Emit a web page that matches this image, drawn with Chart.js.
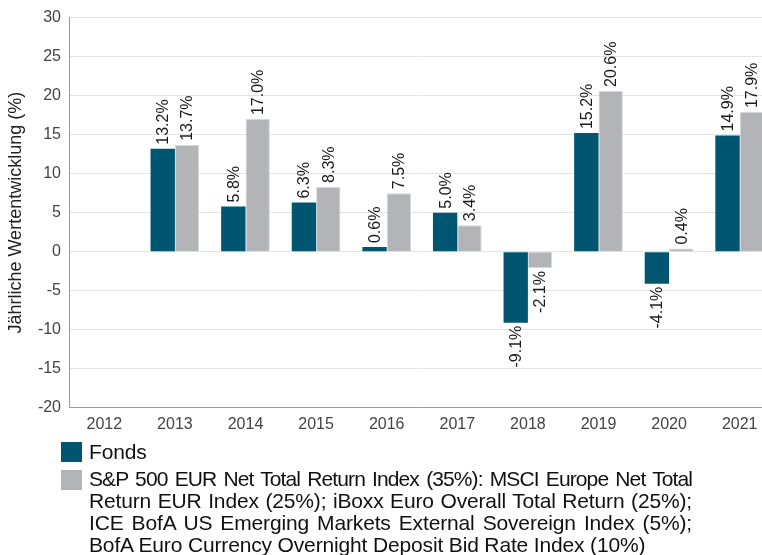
<!DOCTYPE html>
<html>
<head>
<meta charset="utf-8">
<script src="https://cdn.jsdelivr.net/npm/chart.js@4/dist/chart.umd.min.js"></script>
<style>
  html, body { margin: 0; padding: 0; background: #fff; overflow: hidden; }
  body { width: 762px; height: 555px; position: relative; font-family: "Liberation Sans", Arial, sans-serif; }
  #wrap { position: absolute; left: 0; top: 0; width: 775px; height: 441px; }
  #legend { position: absolute; left: 61px; top: 442px; color: #111; font-size: 21px; }
  .item { position: relative; padding-left: 28px; }
  .box { position: absolute; left: 0; width: 21px; height: 20px; }
  .ln { width: 603px; line-height: 22px; letter-spacing: -0.15px; white-space: nowrap; }
  .just { text-align: justify; text-align-last: justify; }
  .tight { letter-spacing: -0.9px; }
</style>
</head>
<body>
<div id="wrap"><canvas id="chart"></canvas></div>
<div id="legend"></div>
<script>
  const years = ["2012", "2013", "2014", "2015", "2016", "2017", "2018", "2019", "2020", "2021"];
  const fondsValues = [null, 13.2, 5.8, 6.3, 0.6, 5.0, -9.1, 15.2, -4.1, 14.9];
  const benchValues = [null, 13.7, 17.0, 8.3, 7.5, 3.4, -2.1, 20.6, 0.4, 17.9];
  const fondsLabel = "Fonds";
  const benchLines = [
    "S&P 500 EUR Net Total Return Index (35%): MSCI Europe Net Total",
    "Return EUR Index (25%); iBoxx Euro Overall Total Return (25%);",
    "ICE BofA US Emerging Markets External Sovereign Index (5%);",
    "BofA Euro Currency Overnight Deposit Bid Rate Index (10%)"
  ];
  const fondsColor = "#005571";
  const benchColor = "#b3b4b8";

  // Werte senkrecht über / unter den Balken
  const valueLabels = {
    id: "valueLabels",
    afterDatasetsDraw(chart) {
      const ctx = chart.ctx;
      ctx.save();
      ctx.font = "16px 'Liberation Sans', Arial, sans-serif";
      ctx.fillStyle = "#1a1a1a";
      ctx.textBaseline = "middle";
      chart.data.datasets.forEach(function (ds, i) {
        chart.getDatasetMeta(i).data.forEach(function (bar, j) {
          const v = ds.data[j];
          if (v === null) return;
          const txt = v.toFixed(1) + "%";
          ctx.save();
          if (v >= 0) {
            ctx.translate(bar.x + 1, bar.y - 4);
            ctx.rotate(-Math.PI / 2);
            ctx.textAlign = "left";
          } else {
            ctx.translate(bar.x + 1, bar.y + 3);
            ctx.rotate(-Math.PI / 2);
            ctx.textAlign = "right";
          }
          ctx.fillText(txt, 0, 0);
          ctx.restore();
        });
      });
      ctx.restore();
    }
  };

  new Chart(document.getElementById("chart"), {
    type: "bar",
    data: {
      labels: years,
      datasets: [
        {
          label: fondsLabel,
          data: fondsValues,
          backgroundColor: fondsColor,
          borderColor: fondsColor,
          borderWidth: 0,
          barPercentage: 1,
          categoryPercentage: 0.69,
        },
        {
          label: benchLines.join(" "),
          data: benchValues,
          backgroundColor: benchColor,
          borderColor: "#d6d7d9",
          borderWidth: 1,
          barPercentage: 1,
          categoryPercentage: 0.69,
        },
      ],
    },
    options: {
      responsive: true,
      maintainAspectRatio: false,
      animation: false,
      layout: { padding: { top: 4, right: 0, bottom: 0, left: 0 } },
      plugins: {
        legend: { display: false },
        tooltip: { enabled: false },
      },
      scales: {
        x: {
          grid: { display: false, drawTicks: false },
          border: { color: "#9a9a9a", width: 1 },
          ticks: { color: "#444", font: { size: 16, family: "'Liberation Sans', Arial, sans-serif" }, padding: 7 },
        },
        y: {
          min: -20,
          max: 30,
          ticks: { stepSize: 5, color: "#444", font: { size: 16, family: "'Liberation Sans', Arial, sans-serif" }, padding: 8 },
          grid: { color: "#e4e4e4", drawTicks: false },
          border: { color: "#9a9a9a", width: 1 },
          title: {
            display: true,
            text: "Jährliche Wertentwicklung (%)",
            color: "#222",
            font: { size: 18, family: "'Liberation Sans', Arial, sans-serif" },
            padding: { top: 5, bottom: 0 },
          },
          afterFit: function (scale) { scale.width = 69; },
        },
      },
    },
    plugins: [valueLabels],
  });

  // Legende unten
  const legend = document.getElementById("legend");
  let html = '<div class="item"><span class="box" style="top:0;background:' + fondsColor + '"></span>' +
    '<div class="ln" style="position:relative;top:-1px">' + fondsLabel + '</div></div>';
  html += '<div class="item" style="margin-top:4px"><span class="box" style="top:2px;background:' + benchColor + '"></span>';
  benchLines.forEach(function (l, i) {
    let cls = "ln";
    if (i === 0) cls += " just tight";
    else if (i < benchLines.length - 1) cls += " just";
    html += '<div class="' + cls + '">' + l.replace(/&/g, "&amp;") + '</div>';
  });
  html += '</div>';
  legend.innerHTML = html;
</script>
</body>
</html>
